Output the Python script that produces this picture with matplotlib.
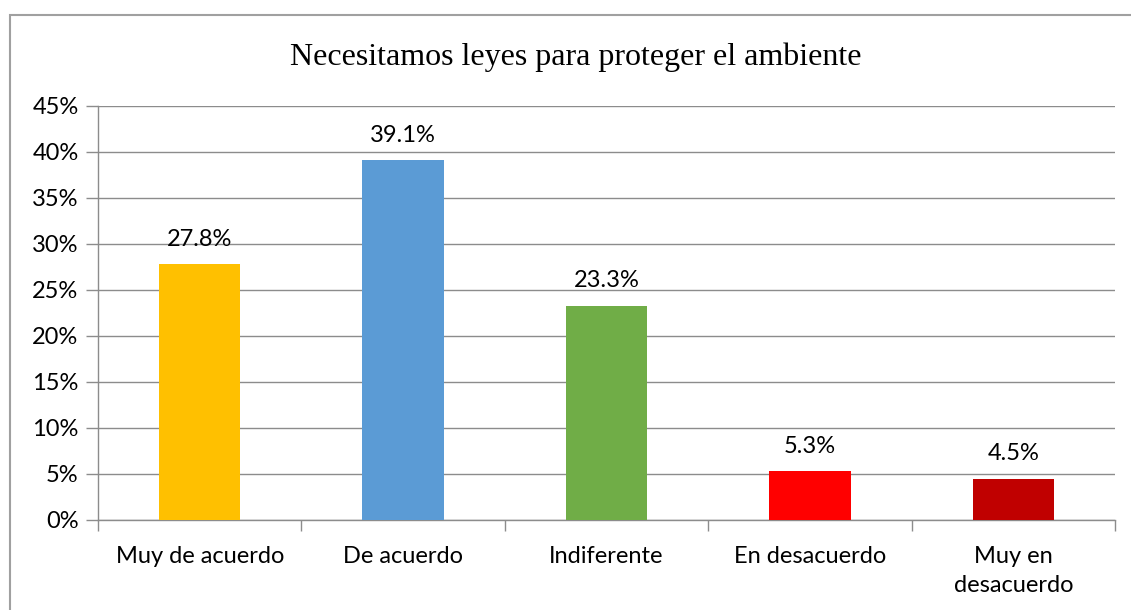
import matplotlib

matplotlib.use("Agg")
import matplotlib.pyplot as plt
from matplotlib.patches import Rectangle
from matplotlib.ticker import FuncFormatter, MultipleLocator

categories = ["Muy de acuerdo", "De acuerdo", "Indiferente", "En desacuerdo", "Muy en\ndesacuerdo"]
values = [27.8, 39.1, 23.3, 5.3, 4.5]
colors = ["#FFC000", "#5B9BD5", "#70AD47", "#FF0000", "#C00000"]
title = "Necesitamos leyes para proteger el ambiente"

W, H = 1131, 610
fig = plt.figure(figsize=(W / 100, H / 100), dpi=100)
ax = fig.add_axes([98 / W, 1 - 520 / H, (1115 - 98) / W, (520 - 106) / H])

grid_color = "#8C8C8C"
label_font = "Lato"
fs = 17

x = list(range(len(categories)))
ax.bar(x, values, width=0.4, color=colors, zorder=3)
for i, v in enumerate(values):
    ax.text(i, v + 1.6, f"{v:.1f}%", ha="center", va="bottom",
            fontsize=fs, family=label_font, color="#000000")

ax.set_xlim(-0.5, len(categories) - 0.5)
ax.set_ylim(0, 45)
ax.yaxis.set_major_locator(MultipleLocator(5))
ax.yaxis.set_major_formatter(FuncFormatter(lambda v, p: f"{v:.0f}%"))
ax.grid(axis="y", color=grid_color, linewidth=1.0, zorder=0)

# category boundaries get the tick marks, labels sit between them
ax.set_xticks([i + 0.5 for i in range(-1, len(categories))], minor=False)
ax.set_xticklabels([])
ax.set_xticks(x, minor=True)
ax.set_xticklabels(categories, minor=True)
ax.tick_params(axis="x", which="major", length=8, color=grid_color, width=1)
ax.tick_params(axis="x", which="minor", length=0, pad=19)
ax.tick_params(axis="y", length=9, color=grid_color, width=1, pad=5)

for lab in ax.get_xticklabels(minor=True) + ax.get_yticklabels():
    lab.set_fontfamily(label_font)
    lab.set_fontsize(fs)
    lab.set_color("#000000")
for lab in ax.get_xticklabels(minor=True):
    lab.set_linespacing(1.45)
    lab.set_verticalalignment("top")

for side in ["top", "right"]:
    ax.spines[side].set_visible(False)
for side in ["left", "bottom"]:
    ax.spines[side].set_color(grid_color)
    ax.spines[side].set_linewidth(1)

fig.patches.append(Rectangle((9.5 / W, -0.1), 1.2, 1 - 14.5 / H + 0.1,
                             transform=fig.transFigure, fill=False,
                             edgecolor="#A0A0A0", linewidth=1.5))

fig.text(576 / W, 1 - 57 / H, title, ha="center", va="center",
         fontsize=23, family="Liberation Serif", color="#000000")

fig.savefig("out.png", dpi=100)
